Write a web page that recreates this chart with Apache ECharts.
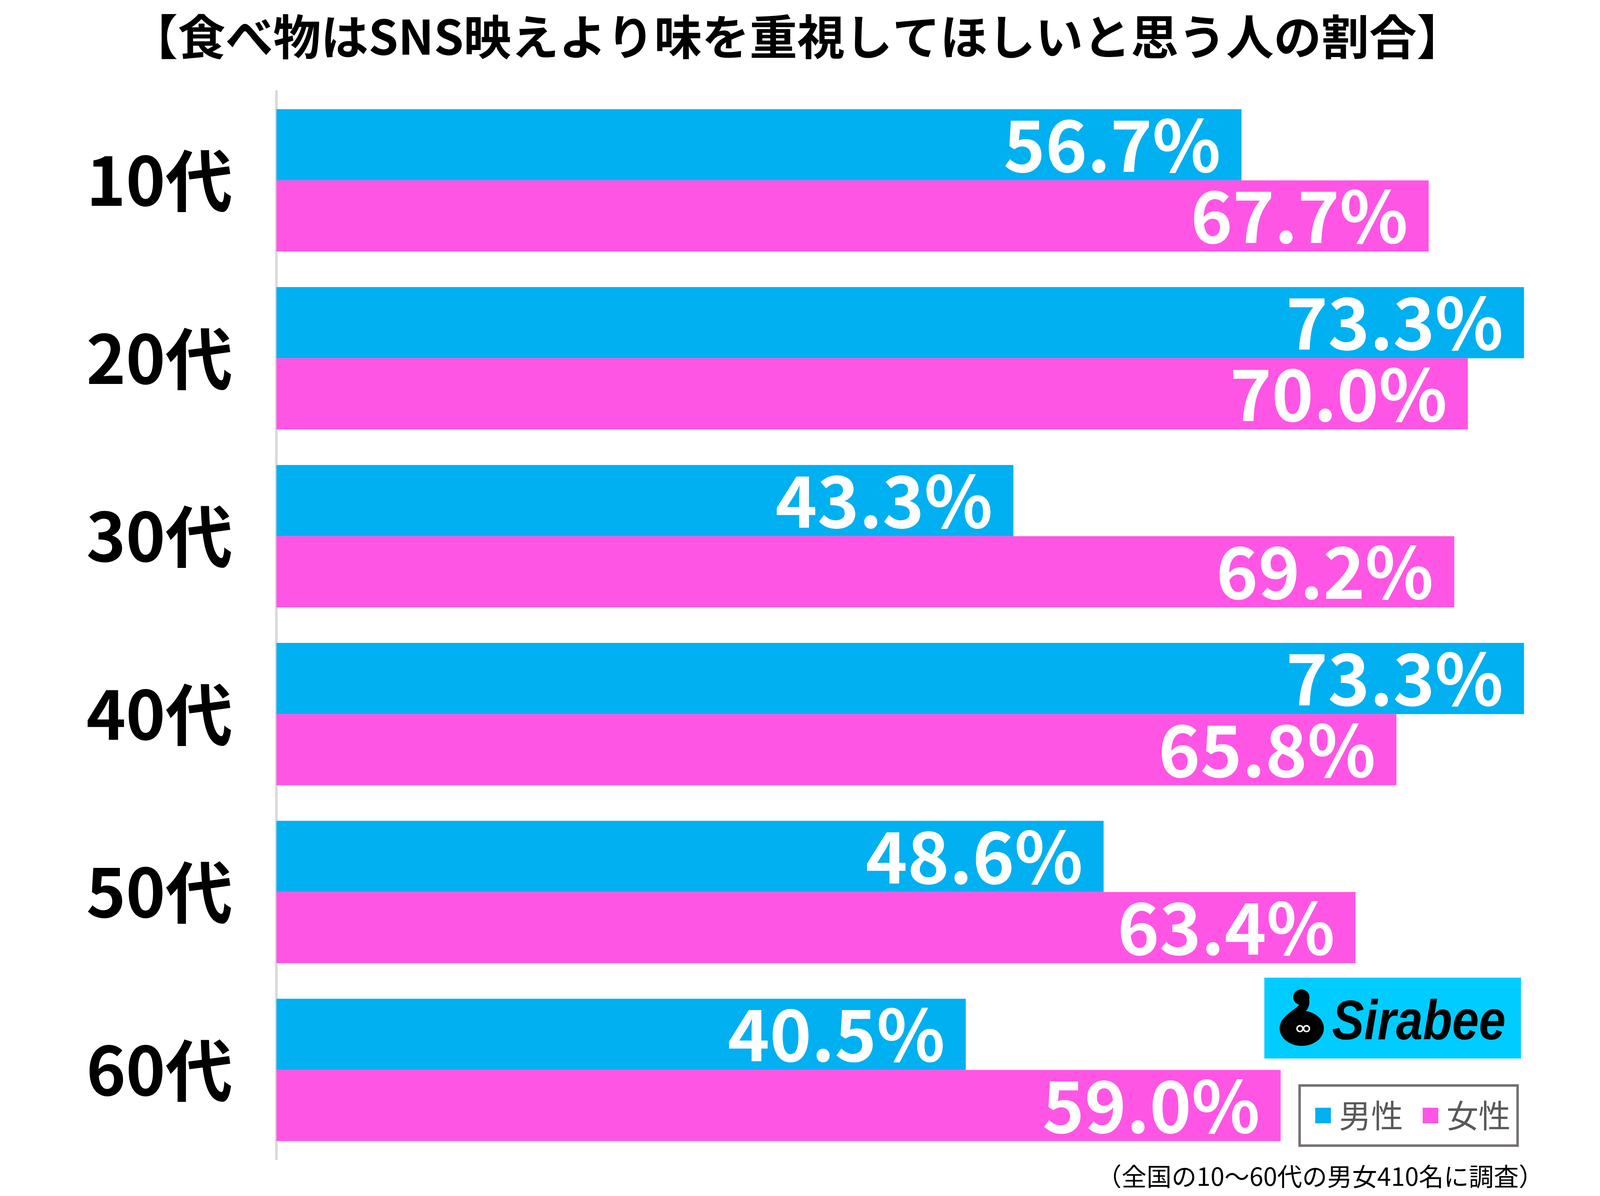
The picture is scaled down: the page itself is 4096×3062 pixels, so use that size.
<!DOCTYPE html>
<html>
<head>
<meta charset="utf-8">
<script src="https://cdn.jsdelivr.net/npm/echarts@6/dist/echarts.min.js"></script>
<style>
html,body{margin:0;padding:0;background:#fff;}
#chart{width:4096px;height:3062px;}
</style>
</head>
<body>
<div id="chart"></div>
<script>
const titleText = '【食べ物はSNS映えより味を重視してほしいと思う人の割合】';
const categories = ['10代', '20代', '30代', '40代', '50代', '60代'];
const seriesNames = ['男性', '女性'];
const maleValues = [56.7, 73.3, 43.3, 73.3, 48.6, 40.5];
const femaleValues = [67.7, 70.0, 69.2, 65.8, 63.4, 59.0];
const noteText = '（全国の10～60代の男女410名に調査）';
const logoText = 'Sirabee';

const JP = '"Noto Sans CJK JP", "Noto Sans", sans-serif';
const BLUE = '#00B0F0';
const PINK = '#FF55E5';

const chart = echarts.init(document.getElementById('chart'), null, {renderer: 'canvas'});

const labelCfg = {
  show: true,
  position: 'insideRight',
  distance: 53,
  color: '#fff',
  fontSize: 182,
  fontWeight: 'bold',
  fontFamily: JP,
  formatter: p => p.value.toFixed(1) + '%'
};

const option = {
  backgroundColor: '#fff',
  animation: false,
  title: {
    text: titleText,
    left: 2036,
    top: 28,
    textAlign: 'center',
    textStyle: {fontSize: 122, fontWeight: 'bold', color: '#000', fontFamily: JP, lineHeight: 122}
  },
  grid: {left: 707.6, top: 234, width: 3268, height: 2733, containLabel: false},
  xAxis: {
    type: 'value', min: 0, max: 75,
    show: false
  },
  yAxis: {
    type: 'category',
    data: categories,
    inverse: true,
    axisLine: {show: true, lineStyle: {color: '#d9d9d9', width: 6.5}},
    axisTick: {show: false},
    splitLine: {show: false},
    axisLabel: {
      margin: 112,
      fontSize: 172,
      fontWeight: 'bold',
      color: '#000',
      fontFamily: JP
    }
  },
  legend: {
    data: seriesNames,
    left: 3327,
    top: 2779,
    orient: 'horizontal',
    icon: 'rect',
    itemWidth: 40,
    itemHeight: 40,
    itemGap: 50,
    padding: [36, 18, 36, 40],
    borderColor: '#767171',
    borderWidth: 6.5,
    borderRadius: 0,
    textStyle: {fontSize: 82, lineHeight: 82, color: '#595959', fontFamily: JP, padding: [0, 0, 0, 16]}
  },
  series: [
    {
      name: seriesNames[0], type: 'bar', data: maleValues,
      barGap: '0%', barCategoryGap: '20%',
      itemStyle: {color: BLUE},
      label: labelCfg
    },
    {
      name: seriesNames[1], type: 'bar', data: femaleValues,
      barGap: '0%', barCategoryGap: '20%',
      itemStyle: {color: PINK},
      label: labelCfg
    }
  ],
  graphic: [
    {
      type: 'rect', shape: {x: 3236.7, y: 2502.9, width: 657, height: 207.2},
      style: {fill: '#00CCFF'}, z: 10
    },
    {
      type: 'ellipse', shape: {cx: 3332.5, cy: 2632.8, rx: 56.6, ry: 45},
      style: {fill: '#000'}, z: 11
    },
    {
      type: 'ellipse', shape: {cx: 3331.4, cy: 2552.9, rx: 20.7, ry: 20},
      style: {fill: '#000'}, z: 11
    },
    {
      type: 'bezierCurve',
      shape: {x1: 3340, y1: 2562, cpx1: 3342, cpy1: 2586, x2: 3298, y2: 2612, cpx2: 3314, cpy2: 2594},
      style: {stroke: '#000', lineWidth: 24, fill: null, lineCap: 'round'}, z: 11
    },
    {
      type: 'circle', shape: {cx: 3327.9, cy: 2633.5, r: 7.5},
      style: {fill: '#000', stroke: '#fff', lineWidth: 4}, z: 12
    },
    {
      type: 'circle', shape: {cx: 3344.6, cy: 2633.5, r: 7.5},
      style: {fill: '#000', stroke: '#fff', lineWidth: 4}, z: 12
    },
    {
      type: 'text', x: 3410, y: 2622, scaleX: 0.86, z: 12,
      style: {
        x: 0, y: 0, text: logoText,
        font: 'italic bold 143px "Liberation Sans", sans-serif',
        fill: '#000', textAlign: 'left', textVerticalAlign: 'middle'
      }
    },
    {
      type: 'text', z: 12,
      style: {
        x: 3952, y: 3012, text: noteText,
        font: '64px ' + JP,
        fill: '#000', textAlign: 'right', textVerticalAlign: 'middle'
      }
    }
  ]
};
chart.setOption(option);
</script>
</body>
</html>
